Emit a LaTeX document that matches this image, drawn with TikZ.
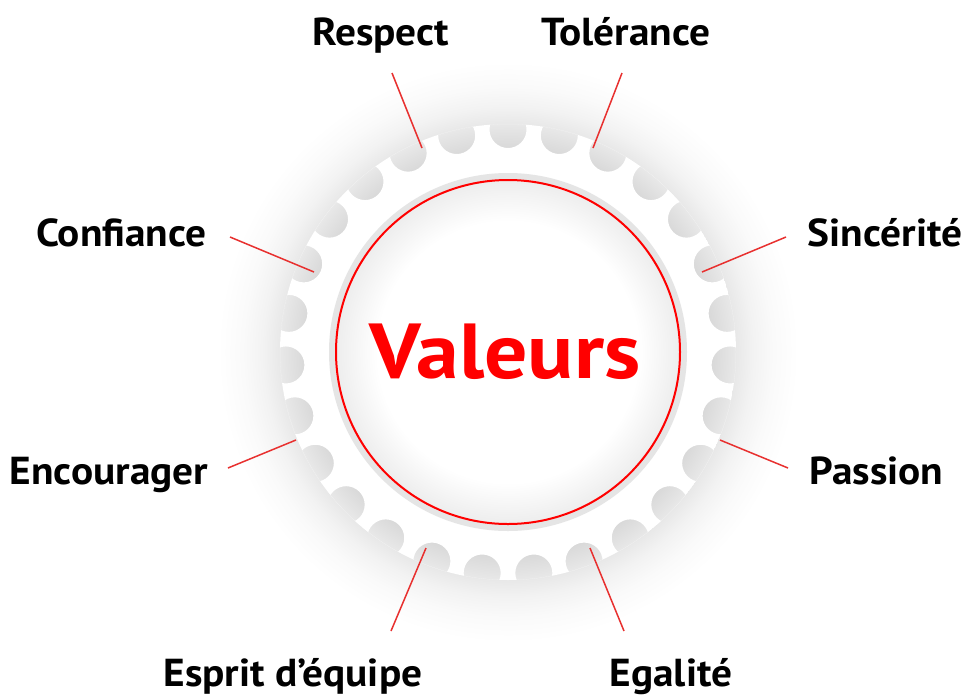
\documentclass[tikz,border=0pt]{standalone}
\usepackage{fontspec}
\setmainfont{PT Sans}
\usetikzlibrary{calc}
% TikZ maps 25bp of a radial shading to the path's radius
\pgfdeclareradialshading{gearhalo}{\pgfpointorigin}{color(0bp)=(black!15); color(17bp)=(black!15); color(19bp)=(black!9); color(20.4bp)=(black!5); color(22.1bp)=(black!2); color(24.2bp)=(white); color(50bp)=(white)}
\pgfdeclareradialshading{discshade}{\pgfpointorigin}{color(0bp)=(white); color(19bp)=(white); color(25bp)=(black!7); color(50bp)=(black!7)}
\definecolor{linered}{HTML}{E8302F}
\begin{document}
\begin{tikzpicture}[x=1pt,y=-1pt,
  lbl/.style={font=\fontsize{39}{40}\selectfont\bfseries, inner sep=0pt, anchor=base, xscale=1.06},
  conn/.style={draw=linered, line width=1.5pt}]
\useasboundingbox[fill=white] (0,0) rectangle (964,697);
\coordinate (c) at (508,352);
% halo / shadow
\shade[shading=gearhalo] (c) circle (300);
% gear body
\begin{scope}
  \clip (c) circle (228);
  \fill[white, even odd rule] (c) circle (228)
    foreach \k in {0,...,26} { ($(c)+(270+\k*13.33333:222.5)$) circle (18.5) };
\end{scope}
% inner disc
\fill[black!10] (c) circle (179);
\shade[shading=discshade] (c) circle (172);
\draw[red, line width=2pt] (c) circle (172);
\node[text=red, font=\fontsize{78}{80}\selectfont\bfseries, inner sep=0pt, anchor=base, xscale=1.1] (val) at (505,378) {Valeurs};
% labels
\node[lbl] (respect) at (380.5,45) {Respect};
\node[lbl] (tol) at (626,45) {Tolérance};
\node[lbl] (conf) at (121.5,246) {Confiance};
\node[lbl] (sinc) at (885,246) {Sincérité};
\node[lbl] (enc) at (109,484) {Encourager};
\node[lbl] (pass) at (876.5,484) {Passion};
\node[lbl] (esp) at (293,686) {Esprit d’équipe};
\node[lbl] (ega) at (671,686) {Egalité};
% connector ends
\coordinate (respectA) at (392,73);  \coordinate (respectB) at (422,148);
\coordinate (tolA) at (622,73);      \coordinate (tolB) at (593,148);
\coordinate (confA) at (230,237);    \coordinate (confB) at (314,272);
\coordinate (sincA) at (786,237);    \coordinate (sincB) at (702,272);
\coordinate (encA) at (228,468);     \coordinate (encB) at (296,440);
\coordinate (passA) at (788,468);    \coordinate (passB) at (720,440);
\coordinate (espA) at (391,631);     \coordinate (espB) at (426,548);
\coordinate (egaA) at (624,631);     \coordinate (egaB) at (590,548);
\draw[conn] (respectA) -- (respectB);
\draw[conn] (tolA) -- (tolB);
\draw[conn] (confA) -- (confB);
\draw[conn] (sincA) -- (sincB);
\draw[conn] (encA) -- (encB);
\draw[conn] (passA) -- (passB);
\draw[conn] (espA) -- (espB);
\draw[conn] (egaA) -- (egaB);
\end{tikzpicture}
\end{document}
